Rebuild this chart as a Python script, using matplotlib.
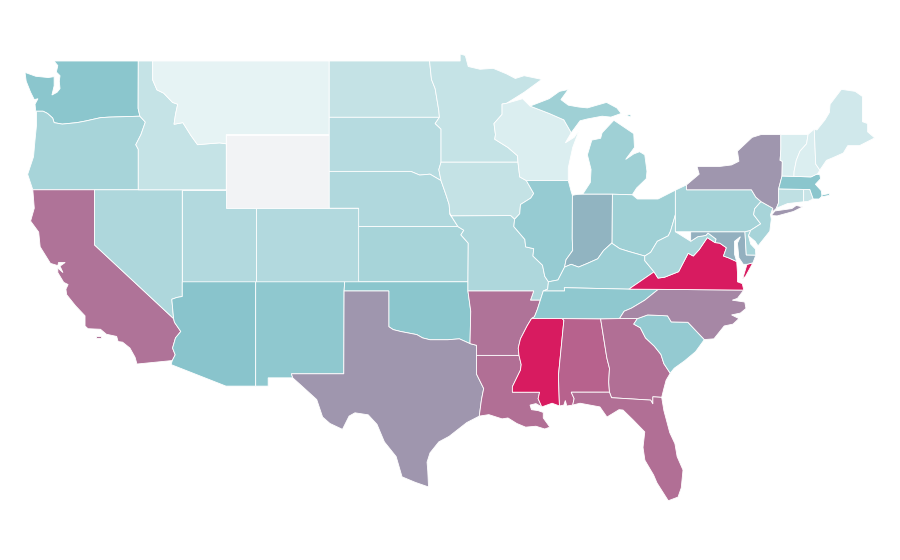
import matplotlib
matplotlib.use('Agg')
import matplotlib.pyplot as plt
from matplotlib.colors import LinearSegmentedColormap
from matplotlib.patches import Polygon

# estimated value per state (0 = palest, 100 = deepest red)
states = ['WA', 'OR', 'CA', 'NV', 'ID', 'MT', 'WY', 'UT', 'AZ', 'CO', 'NM', 'ND', 'SD', 'NE', 'KS', 'OK',
          'TX', 'MN', 'IA', 'MO', 'AR', 'LA', 'WI', 'IL', 'MI', 'IN', 'OH', 'KY', 'TN', 'MS', 'AL', 'GA',
          'FL', 'SC', 'NC', 'VA', 'WV', 'MD', 'DE', 'PA', 'NJ', 'NY', 'CT', 'RI', 'MA', 'VT', 'NH', 'ME']
values = [49, 36, 74, 33, 22, 7, 0, 31, 50, 31, 47, 23, 29, 32, 36, 49,
          64, 22, 23, 33, 74, 75, 12, 44, 40, 55, 40, 41, 47, 100, 79, 75,
          75, 45, 68, 100, 35, 56, 36, 37, 36, 64, 25, 21, 49, 13, 12, 17]

# shared borders, lon/lat
columbia = [(-124.0, 46.27), (-123.5, 46.27), (-123.2, 46.15), (-122.85, 45.9), (-122.75, 45.65), (-122.2, 45.57),
            (-121.2, 45.65), (-120.6, 45.74), (-119.6, 45.92), (-119.0, 45.95), (-116.92, 46.0)]
snake = [(-116.92, 46.0), (-116.55, 45.68), (-116.85, 45.0), (-117.2, 44.45), (-117.03, 44.2), (-117.03, 42.0)]
id_mt = [(-116.05, 49.0), (-116.05, 47.97), (-115.76, 47.43), (-115.3, 47.25), (-114.7, 46.75), (-114.35, 46.65),
         (-114.5, 46.1), (-114.6, 45.56), (-114.0, 45.65), (-113.45, 44.95), (-113.0, 44.45), (-112.3, 44.5),
         (-111.5, 44.55), (-111.05, 44.5)]
colorado_r = [(-114.63, 35.0), (-114.57, 34.8), (-114.14, 34.3), (-114.5, 33.95), (-114.7, 33.4), (-114.52, 33.03),
              (-114.72, 32.72)]
red_river = [(-100.0, 34.56), (-99.7, 34.4), (-99.2, 34.3), (-98.1, 34.13), (-97.7, 33.95), (-97.2, 33.85),
             (-96.6, 33.85), (-96.0, 33.85), (-95.2, 33.9), (-94.48, 33.64)]
ohio_west = [(-89.15, 37.0), (-88.5, 37.1), (-88.05, 37.8), (-87.6, 37.95), (-87.1, 37.8), (-86.5, 38.0),
             (-85.8, 38.25), (-85.4, 38.7), (-84.85, 39.1)]
ohio_mid = [(-84.85, 39.1), (-84.3, 38.8), (-83.7, 38.65), (-82.6, 38.4)]
ohio_east = [(-82.6, 38.4), (-82.2, 38.6), (-81.75, 39.2), (-81.0, 39.5), (-80.85, 39.75), (-80.52, 40.64)]
miss_low = [(-91.15, 33.0), (-91.2, 33.4), (-91.05, 33.9), (-90.6, 34.6), (-90.3, 35.0)]
miss_tn = [(-90.3, 35.0), (-90.1, 35.1), (-89.9, 35.5), (-89.7, 36.0)]
miss_la = [(-91.6, 31.0), (-91.6, 31.3), (-91.05, 32.2), (-91.0, 32.5), (-91.15, 33.0)]
miss_il = [(-89.15, 37.0), (-89.4, 37.3), (-89.55, 37.9), (-90.2, 38.4), (-90.15, 38.8), (-90.7, 38.9),
           (-90.75, 39.3), (-91.5, 40.0), (-91.45, 40.4)]
ga_sc = [(-83.1, 35.0), (-83.35, 34.7), (-82.9, 34.5), (-82.55, 33.95), (-81.95, 33.5), (-81.5, 33.05),
         (-81.3, 32.55), (-80.87, 32.03)]
nc_sc = [(-83.1, 35.0), (-82.4, 35.2), (-81.05, 35.15), (-80.8, 34.82), (-79.67, 34.8), (-78.55, 33.86)]
nc_tn = [(-84.32, 35.0), (-84.0, 35.4), (-83.5, 35.57), (-82.6, 36.0), (-81.68, 36.59)]
va_wv = [(-77.82, 39.13), (-78.35, 39.4), (-78.9, 38.75), (-79.3, 38.4), (-79.65, 38.55), (-80.3, 37.55),
         (-81.25, 37.25), (-81.7, 37.2), (-81.97, 37.54)]
md_wv = [(-79.48, 39.72), (-79.48, 39.2), (-79.0, 39.45), (-78.45, 39.52), (-78.3, 39.65), (-77.75, 39.32),
         (-77.82, 39.13)]
potomac = [(-76.35, 38.1), (-76.9, 38.3), (-77.25, 38.4), (-77.05, 38.85), (-77.5, 39.1), (-77.82, 39.13)]
al_ga = [(-85.6, 34.98), (-85.18, 32.87), (-85.0, 32.3), (-85.05, 31.55), (-85.0, 31.0)]
pa_ny_nj = [(-75.35, 42.0), (-75.05, 41.6), (-74.7, 41.36)]
pa_nj = [(-74.7, 41.36), (-75.13, 40.97), (-75.2, 40.65), (-74.72, 40.15), (-75.4, 39.8)]
vt_nh = [(-71.5, 45.01), (-71.6, 44.5), (-72.05, 44.1), (-72.3, 43.6), (-72.45, 43.0), (-72.46, 42.73)]
ny_vt = [(-73.35, 45.0), (-73.35, 44.2), (-73.4, 43.6), (-73.25, 43.55), (-73.27, 42.75)]
big_sioux = [(-96.45, 43.5), (-96.6, 43.1), (-96.45, 42.5)]
iowa_w = [(-96.45, 42.5), (-96.1, 41.7), (-95.9, 41.2), (-95.85, 40.7), (-95.77, 40.58)]
iowa_e = [(-91.22, 43.5), (-91.1, 42.7), (-90.65, 42.5), (-90.15, 41.8), (-90.35, 41.55), (-91.05, 41.2),
          (-91.1, 40.7), (-91.45, 40.4), (-91.72, 40.6)]
mn_wi = [(-92.0, 46.7), (-92.3, 46.66), (-92.3, 46.1), (-92.85, 45.6), (-92.75, 45.0), (-92.8, 44.75),
         (-91.9, 44.3), (-91.25, 43.85), (-91.22, 43.5)]
red_north = [(-96.56, 45.94), (-96.6, 46.3), (-96.85, 47.5), (-97.1, 48.0), (-97.23, 49.0)]
wabash = [(-87.53, 39.35), (-87.5, 38.7), (-87.95, 38.2), (-88.05, 37.8)]
wi_up = [(-90.4, 46.55), (-89.1, 46.15), (-88.1, 45.8), (-87.6, 45.1)]
mo_ks = [(-95.3, 40.0), (-94.9, 39.8), (-95.1, 39.55), (-94.6, 39.1), (-94.62, 37.0)]

outlines = {
    'WA': [[(-117.03, 49.0), (-122.76, 49.0), (-122.5, 48.75), (-122.6, 48.4), (-122.35, 48.2), (-122.4, 47.9),
            (-122.35, 47.5), (-122.55, 47.3), (-122.9, 47.15), (-122.75, 47.65), (-122.75, 48.15), (-123.15, 48.1),
            (-124.0, 48.17), (-124.73, 48.38), (-124.65, 47.9), (-124.35, 47.3), (-124.1, 46.9), (-123.85, 46.95),
            (-124.05, 46.65)] + columbia + [(-117.04, 46.42)]],
    'OR': [columbia + snake[1:] + [(-124.2, 42.0), (-124.55, 42.84), (-124.15, 43.8), (-124.05, 44.7),
                                   (-123.95, 45.5), (-123.95, 46.2)]],
    'CA': [[(-124.2, 42.0), (-120.0, 42.0), (-120.0, 39.0)] + colorado_r +
           [(-117.12, 32.53), (-117.25, 32.9), (-117.6, 33.4), (-118.1, 33.72), (-118.4, 33.75), (-118.5, 34.03),
            (-119.2, 34.15), (-119.6, 34.42), (-120.45, 34.45), (-120.65, 34.6), (-120.65, 35.15), (-121.3, 35.7),
            (-121.9, 36.3), (-121.95, 36.6), (-121.8, 36.85), (-122.1, 36.97), (-122.5, 37.5), (-122.5, 37.75),
            (-122.15, 37.5), (-122.35, 37.85), (-122.0, 38.05), (-122.45, 38.05), (-122.5, 37.88), (-123.0, 38.0),
            (-123.7, 38.9), (-123.8, 39.7), (-124.35, 40.3), (-124.1, 41.0)],
           [(-119.9, 34.05), (-119.55, 34.05), (-119.55, 33.95), (-119.9, 33.95)]],
    'NV': [[(-120.0, 42.0), (-114.04, 42.0), (-114.04, 36.2), (-114.4, 36.15), (-114.75, 36.05), (-114.63, 35.0),
            (-120.0, 39.0)]],
    'ID': [[(-117.03, 49.0)] + id_mt + [(-111.05, 42.0), (-117.03, 42.0)] + snake[-2::-1] + [(-117.04, 46.42)]],
    'MT': [[(-104.05, 49.0), (-104.05, 45.0), (-111.05, 45.0)] + id_mt[::-1]],
    'WY': [[(-111.05, 45.0), (-104.05, 45.0), (-104.05, 41.0), (-111.05, 41.0)]],
    'UT': [[(-114.04, 42.0), (-111.05, 42.0), (-111.05, 41.0), (-109.05, 41.0), (-109.05, 37.0), (-114.04, 37.0)]],
    'AZ': [[(-114.04, 37.0), (-109.05, 37.0), (-109.05, 31.33), (-111.07, 31.33), (-114.8, 32.5)] + colorado_r[::-1] +
           [(-114.75, 36.05), (-114.4, 36.15), (-114.04, 36.2)]],
    'CO': [[(-109.05, 41.0), (-102.05, 41.0), (-102.05, 37.0), (-109.05, 37.0)]],
    'NM': [[(-109.05, 37.0), (-103.0, 37.0), (-103.04, 36.5), (-103.06, 32.0), (-106.62, 32.0), (-106.53, 31.78),
            (-108.2, 31.78), (-108.2, 31.33), (-109.05, 31.33)]],
    'ND': [[(-104.05, 49.0)] + red_north[::-1] + [(-104.05, 45.94)]],
    'SD': [[(-104.05, 45.94), (-96.56, 45.94), (-96.85, 45.6), (-96.45, 45.3)] + big_sioux +
           [(-97.2, 42.85), (-97.9, 42.8), (-98.5, 43.0), (-104.05, 43.0)]],
    'NE': [[(-104.05, 43.0), (-98.5, 43.0), (-97.9, 42.8), (-97.2, 42.85)] + iowa_w + [(-95.3, 40.0),
            (-102.05, 40.0), (-102.05, 41.0), (-104.05, 41.0)]],
    'KS': [[(-102.05, 40.0)] + mo_ks + [(-102.05, 37.0)]],
    'OK': [[(-103.0, 37.0), (-94.62, 37.0), (-94.62, 36.5), (-94.43, 35.4)] + red_river[::-1] +
           [(-100.0, 36.5), (-103.04, 36.5)]],
    'TX': [[(-103.04, 36.5), (-100.0, 36.5)] + red_river +
           [(-94.04, 33.55), (-94.04, 33.0), (-94.04, 31.99), (-93.55, 31.2), (-93.7, 30.6), (-93.75, 30.3),
            (-93.85, 29.7), (-94.7, 29.35), (-95.1, 29.1), (-95.9, 28.6), (-96.6, 28.3), (-97.2, 27.7), (-97.4, 27.2),
            (-97.35, 26.7), (-97.3, 25.85), (-98.2, 26.1), (-99.1, 26.4), (-99.5, 27.5), (-100.3, 28.3),
            (-100.8, 29.25), (-101.4, 29.77), (-102.3, 29.88), (-102.7, 29.7), (-103.15, 28.98), (-104.0, 29.3),
            (-104.5, 29.65), (-104.9, 30.6), (-106.0, 31.4), (-106.53, 31.78), (-106.62, 32.0), (-103.06, 32.0)]],
    'MN': [[(-97.23, 49.0), (-95.15, 49.0), (-95.15, 49.38), (-94.8, 49.3), (-94.6, 48.7), (-93.8, 48.55),
            (-92.9, 48.6), (-92.0, 48.3), (-91.4, 48.05), (-90.8, 48.2), (-89.6, 48.0), (-90.8, 47.3)] + mn_wi +
           [(-96.45, 43.5), (-96.45, 45.3), (-96.85, 45.6)] + red_north[:-1]],
    'IA': [[(-96.45, 43.5)] + iowa_e + iowa_w[::-1] + big_sioux[1:2]],
    'MO': [[(-95.77, 40.58), (-91.72, 40.6)] + miss_il[::-1] +
           [(-89.2, 36.6), (-89.5, 36.5), (-89.7, 36.0), (-90.37, 36.0), (-90.15, 36.5), (-94.62, 36.5)] +
           mo_ks[::-1] + [(-95.85, 40.7)]],
    'AR': [[(-94.62, 36.5), (-90.15, 36.5), (-90.37, 36.0), (-89.7, 36.0)] + miss_tn[::-1] + miss_low[::-1] +
           [(-94.04, 33.0), (-94.04, 33.55), (-94.48, 33.64), (-94.43, 35.4)]],
    'LA': [[(-94.04, 33.0)] + miss_la[::-1] +
           [(-89.75, 31.0), (-89.85, 30.65), (-89.6, 30.2), (-90.0, 30.38), (-90.4, 30.3), (-90.3, 30.05),
            (-89.85, 30.0), (-89.5, 29.9), (-89.5, 29.6), (-89.05, 29.1), (-89.4, 29.0), (-90.0, 29.15), (-90.7, 29.1),
            (-91.3, 29.3), (-91.9, 29.6), (-92.3, 29.55), (-93.2, 29.78), (-93.85, 29.7), (-93.75, 30.3),
            (-93.7, 30.6), (-93.55, 31.2), (-94.04, 31.99)]],
    'WI': [[(-92.0, 46.7), (-90.9, 46.95)] + wi_up +
           [(-88.0, 44.55), (-87.4, 44.85), (-87.05, 45.25), (-87.5, 44.3), (-87.8, 43.2), (-87.8, 42.5),
            (-90.65, 42.5), (-91.1, 42.7)] + mn_wi[:0:-1]],
    'IL': [[(-90.65, 42.5), (-87.8, 42.5), (-87.6, 41.9), (-87.52, 41.7)] + wabash + ohio_west[1::-1] + miss_il[1:] +
           [(-91.1, 40.7), (-91.05, 41.2), (-90.35, 41.55), (-90.15, 41.8)]],
    'MI': [[(-86.82, 41.76), (-84.8, 41.76), (-83.45, 41.73), (-83.15, 42.1), (-82.5, 42.6), (-82.45, 43.0),
            (-82.6, 43.9), (-82.95, 44.07), (-83.35, 43.95), (-83.9, 43.65), (-83.3, 44.3), (-83.35, 45.05),
            (-84.7, 45.78), (-85.5, 45.1), (-85.6, 44.8), (-86.2, 44.7), (-86.5, 43.9), (-86.25, 43.1), (-86.3, 42.4)],
           wi_up + [(-87.0, 45.75), (-86.5, 45.85), (-85.5, 46.0), (-84.9, 45.95), (-84.2, 46.15), (-84.5, 46.45),
                    (-85.2, 46.75), (-86.5, 46.45), (-87.1, 46.5), (-87.8, 46.6), (-88.3, 46.9), (-87.8, 47.45),
                    (-88.4, 47.35), (-89.1, 46.95)],
           [(-83.9, 46.05), (-83.55, 46.1), (-83.55, 45.95)]],
    'IN': [[(-87.52, 41.7), (-87.2, 41.75), (-86.82, 41.76), (-84.8, 41.76), (-84.82, 39.1)] + ohio_west[:1:-1] +
           wabash[-2::-1]],
    'OH': [[(-84.8, 41.76), (-83.45, 41.73), (-83.1, 41.5), (-82.7, 41.5), (-81.7, 41.5), (-80.52, 41.98)] +
           ohio_east[::-1] + ohio_mid[-2::-1] + [(-84.82, 39.1)]],
    'KY': [[(-89.5, 36.5), (-89.2, 36.6)] + ohio_west + ohio_mid[1:] +
           [(-82.6, 38.15), (-81.97, 37.54), (-83.68, 36.6), (-88.07, 36.68), (-88.05, 36.5)]],
    'TN': [[(-89.5, 36.5), (-88.05, 36.5), (-88.07, 36.68), (-83.68, 36.6)] + nc_tn[::-1] +
           [(-85.6, 34.98), (-88.2, 35.0)] + miss_tn],
    'MS': [miss_low + [(-88.2, 35.0), (-88.1, 34.9), (-88.47, 31.9), (-88.4, 30.25), (-88.9, 30.4), (-89.6, 30.2),
                       (-89.85, 30.65), (-89.75, 31.0)] + miss_la[:-1]],
    'AL': [[(-88.2, 35.0)] + al_ga + [(-87.6, 31.0), (-87.4, 30.65), (-87.5, 30.3), (-87.9, 30.25), (-88.0, 30.55),
                                      (-88.1, 30.3), (-88.4, 30.25), (-88.47, 31.9), (-88.1, 34.9)]],
    'GA': [[(-85.6, 34.98), (-84.32, 35.0)] + ga_sc +
           [(-81.15, 31.65), (-81.3, 31.2), (-81.45, 30.72), (-82.05, 30.75), (-82.05, 30.36), (-82.2, 30.57),
            (-84.86, 30.7)] + al_ga[::-1][:-1]],
    'FL': [[(-87.6, 31.0), (-85.0, 31.0), (-84.86, 30.7), (-82.2, 30.57), (-82.05, 30.36), (-82.05, 30.75),
            (-81.45, 30.72), (-81.3, 30.0), (-80.9, 28.8), (-80.55, 28.2), (-80.4, 27.5), (-80.0, 26.77),
            (-80.12, 25.8), (-80.34, 25.3), (-81.0, 25.1), (-81.77, 26.07), (-82.0, 26.5), (-82.59, 27.3),
            (-82.72, 28.0), (-82.6, 28.84), (-83.4, 29.5), (-84.08, 30.03), (-84.35, 30.05), (-85.17, 29.65),
            (-85.65, 30.2), (-87.0, 30.4), (-87.5, 30.3), (-87.4, 30.65)]],
    'SC': [nc_sc + [(-79.15, 33.2), (-79.9, 32.7), (-80.6, 32.3)] + ga_sc[:0:-1]],
    'NC': [[(-81.68, 36.59), (-75.87, 36.55), (-76.3, 36.1), (-76.65, 36.0), (-75.8, 35.9), (-75.72, 35.55),
            (-76.1, 35.3), (-76.7, 35.2), (-76.2, 35.0), (-76.6, 34.7), (-77.2, 34.6), (-77.9, 33.9)] + nc_sc[::-1] +
           nc_tn[:-1]],
    'VA': [[(-83.68, 36.6), (-81.68, 36.59), (-75.87, 36.55), (-75.97, 36.9), (-76.3, 37.0), (-76.3, 37.5)] + potomac +
           va_wv[1:],
           [(-75.25, 38.03), (-75.65, 37.95), (-75.95, 37.15), (-75.75, 37.3)]],
    'WV': [[(-80.52, 40.64), (-80.52, 39.72)] + md_wv[1:] + va_wv[1:] + [(-82.6, 38.15)] + ohio_east],
    'MD': [[(-79.48, 39.72), (-75.79, 39.72), (-75.7, 38.46), (-75.05, 38.45), (-75.25, 38.03), (-75.65, 37.95),
            (-75.9, 37.95), (-76.2, 38.3), (-76.3, 39.1), (-76.1, 39.45), (-76.5, 39.2), (-76.5, 38.5)] + potomac +
           md_wv[-2:0:-1]],
    'DE': [[(-75.79, 39.72), (-75.4, 39.8), (-75.55, 39.5), (-75.4, 39.05), (-75.08, 38.78), (-75.05, 38.45),
            (-75.7, 38.46)]],
    'PA': [[(-80.52, 41.98), (-79.76, 42.27), (-79.76, 42.0)] + pa_ny_nj + pa_nj[1:] + [(-75.79, 39.72),
            (-80.52, 39.72)]],
    'NJ': [[(-74.7, 41.36), (-73.9, 41.0), (-74.05, 40.65), (-74.0, 40.4), (-74.1, 39.75), (-74.9, 38.95),
            (-75.1, 39.2), (-75.55, 39.5)] + pa_nj[:0:-1]],
    'NY': [[(-79.76, 42.27), (-78.9, 42.85), (-79.05, 43.27), (-77.5, 43.27), (-76.7, 43.35), (-76.2, 43.55),
            (-76.3, 44.1), (-75.3, 44.85), (-74.7, 45.0)] + ny_vt + [(-73.5, 42.05), (-73.5, 41.3), (-73.65, 41.0),
            (-73.9, 40.8), (-73.9, 41.0)] + pa_ny_nj[::-1] + [(-79.76, 42.0)],
           [(-74.0, 40.6), (-73.75, 40.85), (-72.6, 40.98), (-72.3, 41.15), (-71.87, 41.07), (-72.5, 40.82),
            (-73.6, 40.58)]],
    'CT': [[(-73.5, 42.05), (-71.8, 42.02), (-71.8, 41.35), (-72.9, 41.25), (-73.65, 41.0), (-73.5, 41.3)]],
    'RI': [[(-71.8, 42.02), (-71.38, 42.02), (-71.15, 41.5), (-71.5, 41.37), (-71.8, 41.35)]],
    'MA': [[(-73.5, 42.05), (-73.27, 42.75), (-72.46, 42.73), (-71.3, 42.7), (-70.95, 42.85), (-70.7, 42.82),
            (-70.65, 42.6), (-71.0, 42.3), (-70.6, 41.95), (-70.55, 41.65), (-70.75, 41.5), (-71.15, 41.5),
            (-71.38, 42.02), (-71.8, 42.02)],
           [(-70.55, 41.72), (-70.05, 41.8), (-70.05, 41.7), (-70.55, 41.62)]],
    'VT': [ny_vt[:1] + vt_nh + ny_vt[:0:-1]],
    'NH': [[(-71.5, 45.01), (-71.08, 45.3), (-70.98, 43.4), (-70.7, 43.07), (-70.85, 42.87), (-71.3, 42.7)] +
           vt_nh[::-1][:-1]],
    'ME': [[(-71.08, 45.3), (-70.9, 45.25), (-70.35, 45.8), (-70.05, 46.2), (-70.0, 46.65), (-69.23, 47.46),
            (-68.3, 47.35), (-67.8, 47.07), (-67.8, 45.7), (-67.45, 45.6), (-67.45, 45.15), (-66.97, 44.82),
            (-68.0, 44.4), (-68.8, 44.4), (-69.1, 44.0), (-69.8, 43.75), (-70.25, 43.6), (-70.7, 43.07),
            (-70.98, 43.4)]],
}

cmap = LinearSegmentedColormap.from_list('rate', [(0, '#f2f3f5'), (0.05, '#eaf5f6'), (0.5, '#89c5cc'),
                                                  (1, '#d81b60')])

fig = plt.figure(figsize=(9, 5.6), dpi=100)
ax = fig.add_axes([0, 0, 1, 1])

for state, value in zip(states, values):
    for ring in outlines[state]:
        ax.add_patch(Polygon(ring, closed=True, facecolor=cmap(value / 100), edgecolor='white', linewidth=0.6))

ax.set_xlim(-126.43, -65.25)
ax.set_ylim(21.88, 52.315)
ax.axis('off')

fig.savefig('out.png', dpi=100, facecolor='white')
